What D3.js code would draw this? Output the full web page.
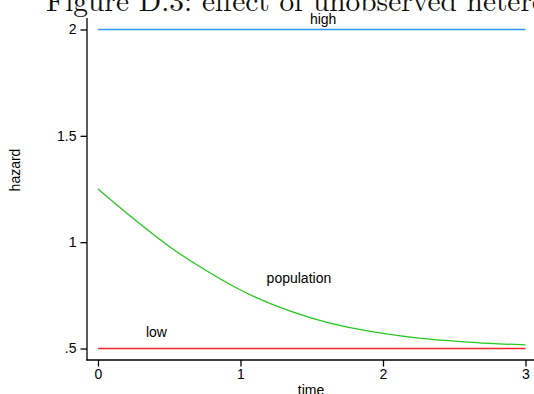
<!DOCTYPE html>
<html>
<head>
<meta charset="utf-8">
<script src="https://cdn.jsdelivr.net/npm/d3@7"></script>
<style>
  html, body { margin: 0; padding: 0; background: #fff; }
  svg { display: block; }
</style>
</head>
<body>
<svg id="chart" width="534" height="394"></svg>
<script>
// Hazard over time for two subgroups and the mixed population
const titleText = "Figure D.3: effect of unobserved heterogeneity";
const timePoints = [0, 0.25, 0.5, 0.75, 1, 1.25, 1.5, 1.75, 2, 2.25, 2.5, 2.75, 3];
const highHazard = [2, 2, 2, 2, 2, 2, 2, 2, 2, 2, 2, 2, 2];
const lowHazard = [0.5, 0.5, 0.5, 0.5, 0.5, 0.5, 0.5, 0.5, 0.5, 0.5, 0.5, 0.5, 0.5];
const populationHazard = [1.25, 1.11, 0.98, 0.87, 0.775, 0.70, 0.643, 0.60, 0.571, 0.549, 0.535, 0.524, 0.517];
const xTicks = [0, 1, 2, 3];
const yTicks = [0.5, 1, 1.5, 2];
const yTickLabels = [".5", "1", "1.5", "2"];
const seriesLabels = [
  { text: "high", t: 1.58, v: 2.028 },
  { text: "population", t: 1.41, v: 0.81 },
  { text: "low", t: 0.41, v: 0.555 }
];

const svg = d3.select("#chart");
const font = "'Liberation Sans', Arial, Helvetica, sans-serif";

// plot region
const x = d3.scaleLinear().domain([0, 3]).range([98, 525.5]);
const y = d3.scaleLinear().domain([0.5, 2]).range([348.5, 29.5]);
const axisLeftX = 87;
const axisBottomY = 360;

// title, partly above the top edge
svg.append("text")
  .attr("x", 46)
  .attr("y", 11)
  .attr("font-family", "'Latin Modern Roman', 'CMU Serif', 'Liberation Serif', 'DejaVu Serif', serif")
  .attr("font-size", 29)
  .attr("fill", "#111")
  .attr("textLength", 592)
  .attr("lengthAdjust", "spacingAndGlyphs")
  .text(titleText);

// y axis
const yAxis = d3.axisLeft(y)
  .tickValues(yTicks)
  .tickFormat((d, i) => yTickLabels[i])
  .tickSize(6.5)
  .tickPadding(4);
const gy = svg.append("g")
  .attr("transform", `translate(${axisLeftX},0)`)
  .call(yAxis);
gy.select(".domain").remove();
gy.append("line")
  .attr("x1", 0).attr("x2", 0)
  .attr("y1", 18).attr("y2", axisBottomY + 0.6)
  .attr("stroke", "#000").attr("stroke-width", 1.3);

// x axis
const xAxis = d3.axisBottom(x)
  .tickValues(xTicks)
  .tickFormat(d3.format("d"))
  .tickSize(6.5)
  .tickPadding(3);
const gx = svg.append("g")
  .attr("transform", `translate(0,${axisBottomY})`)
  .call(xAxis);
gx.select(".domain").remove();
gx.append("line")
  .attr("x1", axisLeftX - 0.6).attr("x2", 534)
  .attr("y1", 0).attr("y2", 0)
  .attr("stroke", "#000").attr("stroke-width", 1.3);

[gx, gy].forEach(g => {
  g.selectAll(".tick line").attr("stroke", "#000").attr("stroke-width", 1.3);
  g.selectAll(".tick text")
    .attr("font-family", font)
    .attr("font-size", 14)
    .attr("fill", "#000");
});

// axis titles
svg.append("text")
  .attr("transform", "translate(20,170) rotate(-90)")
  .attr("text-anchor", "middle")
  .attr("font-family", font)
  .attr("font-size", 14)
  .attr("fill", "#000")
  .text("hazard");

svg.append("text")
  .attr("x", 311)
  .attr("y", 395)
  .attr("text-anchor", "middle")
  .attr("font-family", font)
  .attr("font-size", 14)
  .attr("fill", "#000")
  .text("time");

// series lines
const line = d3.line()
  .x(d => x(d[0]))
  .y(d => y(d[1]))
  .curve(d3.curveMonotoneX);

const series = [
  { values: highHazard, color: "#3396fa" },
  { values: lowHazard, color: "#f5202e" },
  { values: populationHazard, color: "#26c81e" }
];
series.forEach(s => {
  svg.append("path")
    .datum(timePoints.map((t, i) => [t, s.values[i]]))
    .attr("d", line)
    .attr("fill", "none")
    .attr("stroke", s.color)
    .attr("stroke-width", 1.3);
});

// series labels
svg.selectAll("text.series-label")
  .data(seriesLabels)
  .enter().append("text")
  .attr("class", "series-label")
  .attr("x", d => x(d.t))
  .attr("y", d => y(d.v))
  .attr("text-anchor", "middle")
  .attr("font-family", font)
  .attr("font-size", 14)
  .attr("fill", "#000")
  .text(d => d.text);
</script>
</body>
</html>
